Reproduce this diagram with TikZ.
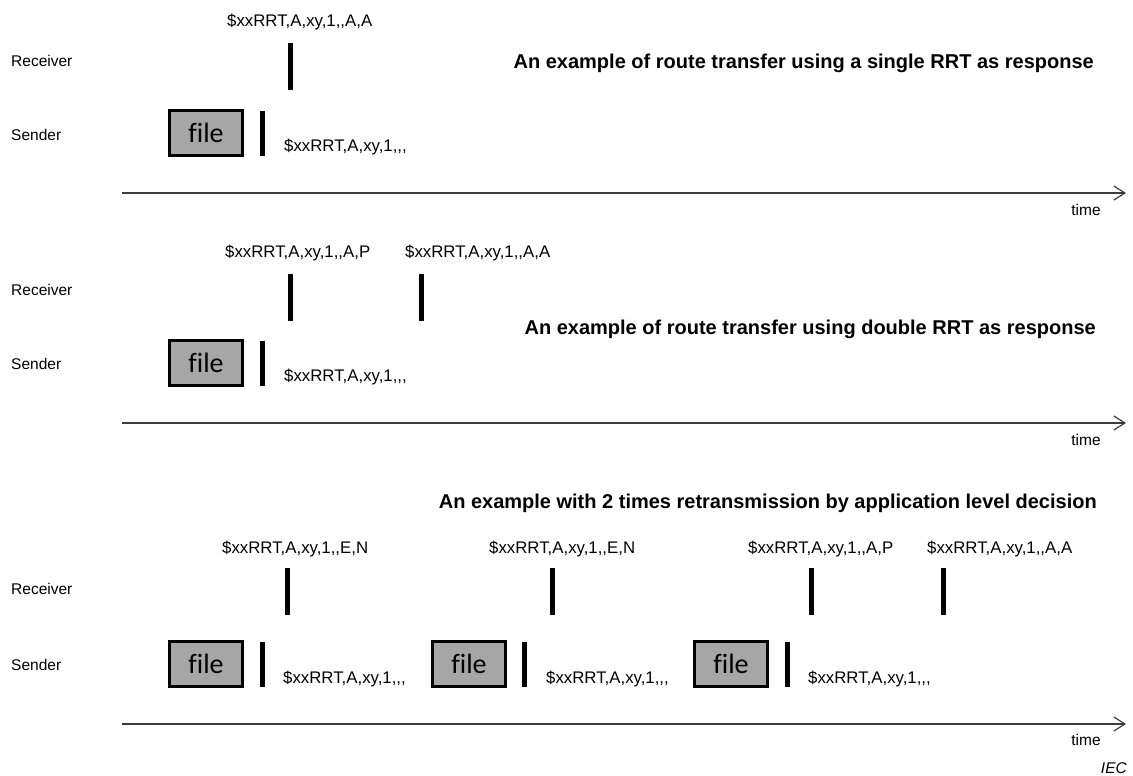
\documentclass[tikz,border=0pt]{standalone}
\usepackage{fontspec}
\setmainfont{Liberation Sans}[Ligatures=TeXOff]
\newfontfamily\filefont{Carlito}[Ligatures={TeXOff,NoCommon}]
\usetikzlibrary{arrows.meta}
\definecolor{filegray}{RGB}{166,166,166}
\definecolor{axisgray}{RGB}{60,60,60}
\tikzstyle{lbl} = [font=\fontsize{15.5}{19}\selectfont, inner sep=0pt]
\tikzstyle{msg} = [font=\fontsize{16.8}{20}\selectfont, inner sep=0pt, anchor=west]
\tikzstyle{heading} = [font=\fontsize{20}{24}\selectfont\bfseries, anchor=east, inner sep=0pt]
\tikzstyle{filebox} = [rectangle, draw, line width=3pt, fill=filegray, minimum width=73pt, minimum height=45pt, inner sep=0pt, font=\filefont\fontsize{28}{32}\selectfont]
\tikzstyle{rrtbar} = [rectangle, fill=black, inner sep=0pt, minimum width=5pt, minimum height=47pt]
\tikzstyle{line} = [draw, line width=1.5pt, axisgray, -{Straight Barb[length=11pt,width=14pt,line width=1.2pt]}]

\begin{document}
\begin{tikzpicture}[x=1pt, y=-1pt]
		\useasboundingbox (0,0) rectangle (1133,776);

		% single RRT
		\node [lbl, anchor=west] (recv1) at (11,61) {Receiver};
		\node [lbl, anchor=west] (send1) at (11,135) {Sender};
		\node [heading] (head1) at (1094,63) {An example of route transfer using a single RRT as response};
		\node [msg] (r1atxt) at (227,22) {\$xxRRT,A,xy,1,,A,A};
		\node [rrtbar] (r1a) at (290,66.5) {};
		\node [filebox] (f1) at (206,133) {file};
		\node [rrtbar, minimum height=45pt] (s1) at (262,133) {};
		\node [msg] (s1txt) at (284,147) {\$xxRRT,A,xy,1,,,};
		\coordinate (t1s) at (122,193);
		\coordinate (t1e) at (1126,193);
		\path [line] (t1s) -- (t1e);
		\node [lbl] (time1) at (1086,210) {time};

		% double RRT
		\node [lbl, anchor=west] (recv2) at (11,290) {Receiver};
		\node [lbl, anchor=west] (send2) at (11,364) {Sender};
		\node [heading] (head2) at (1096,329) {An example of route transfer using double RRT as response};
		\node [msg] (r2atxt) at (225,253) {\$xxRRT,A,xy,1,,A,P};
		\node [msg] (r2btxt) at (405,253) {\$xxRRT,A,xy,1,,A,A};
		\node [rrtbar] (r2a) at (290,297) {};
		\node [rrtbar] (r2b) at (421,297) {};
		\node [filebox] (f2) at (206,363) {file};
		\node [rrtbar, minimum height=45pt] (s2) at (262,363) {};
		\node [msg] (s2txt) at (284,377) {\$xxRRT,A,xy,1,,,};
		\coordinate (t2s) at (122,423);
		\coordinate (t2e) at (1126,423);
		\path [line] (t2s) -- (t2e);
		\node [lbl] (time2) at (1086,440) {time};

		% retransmission
		\node [lbl, anchor=west] (recv3) at (11,589) {Receiver};
		\node [lbl, anchor=west] (send3) at (11,665) {Sender};
		\node [heading] (head3) at (1097,503) {An example with 2 times retransmission by application level decision};
		\node [msg] (r3atxt) at (222,549) {\$xxRRT,A,xy,1,,E,N};
		\node [msg] (r3btxt) at (489,549) {\$xxRRT,A,xy,1,,E,N};
		\node [msg] (r3ctxt) at (748,549) {\$xxRRT,A,xy,1,,A,P};
		\node [msg] (r3dtxt) at (927,549) {\$xxRRT,A,xy,1,,A,A};
		\node [rrtbar] (r3a) at (287,591) {};
		\node [rrtbar] (r3b) at (552,591) {};
		\node [rrtbar] (r3c) at (811,591) {};
		\node [rrtbar] (r3d) at (943,591) {};
		\node [filebox] (f3a) at (206,664) {file};
		\node [filebox] (f3b) at (469,664) {file};
		\node [filebox] (f3c) at (731,664) {file};
		\node [rrtbar, minimum height=45pt] (s3a) at (262,664) {};
		\node [rrtbar, minimum height=45pt] (s3b) at (524,664) {};
		\node [rrtbar, minimum height=45pt] (s3c) at (787,664) {};
		\node [msg] (s3atxt) at (283,679) {\$xxRRT,A,xy,1,,,};
		\node [msg] (s3btxt) at (546,679) {\$xxRRT,A,xy,1,,,};
		\node [msg] (s3ctxt) at (808,679) {\$xxRRT,A,xy,1,,,};
		\coordinate (t3s) at (122,724);
		\coordinate (t3e) at (1126,724);
		\path [line] (t3s) -- (t3e);
		\node [lbl] (time3) at (1086,740) {time};

		\node [lbl, anchor=east, font=\fontsize{15.5}{19}\selectfont\itshape] (iec) at (1127,768) {IEC};
	\end{tikzpicture}
\end{document}
